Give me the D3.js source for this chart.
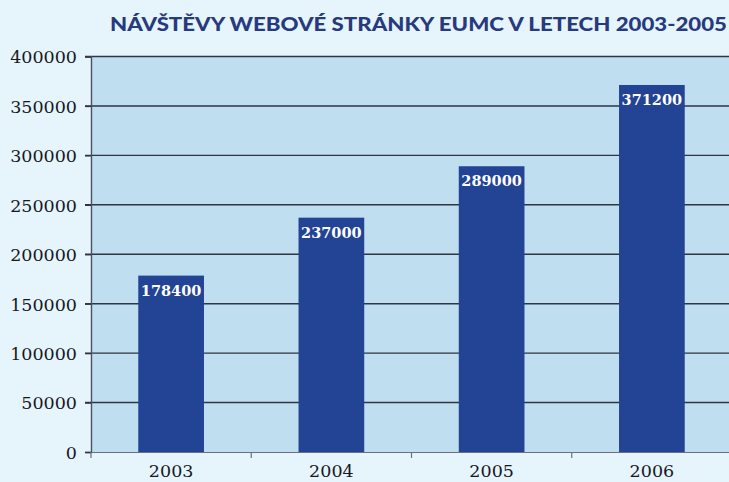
<!DOCTYPE html>
<html><head><meta charset="utf-8">
<script src="https://cdn.jsdelivr.net/npm/d3@7"></script>
<style>html,body{margin:0;padding:0;background:#e6f4fb;}svg{display:block;}</style>
</head><body>
<script>
const categories = ["2003", "2004", "2005", "2006"];
const visits = [178400, 237000, 289000, 371200];
const yTicks = [0, 50000, 100000, 150000, 200000, 250000, 300000, 350000, 400000];
const title = "NÁVŠTĚVY WEBOVÉ STRÁNKY EUMC V LETECH 2003-2005";

const W = 729, H = 482;
const svg = d3.select("body").append("svg").attr("width", W).attr("height", H);
svg.append("rect").attr("width", W).attr("height", H).attr("fill", "#e6f4fb");

const mLeft = 91, mRight = 732, mTop = 56.5, mBottom = 452;
const x = d3.scaleBand().domain(categories).range([mLeft, mRight]).paddingInner(0.59).paddingOuter(0.295);
const xb = d3.scaleBand().domain(categories).range([mLeft, mRight]);
const y = d3.scaleLinear().domain([0, 400000]).range([mBottom, mTop]);

svg.append("rect").attr("x", mLeft).attr("y", mTop).attr("width", W - mLeft).attr("height", mBottom - mTop).attr("fill", "#bfdff0");

// gridlines
svg.append("g").selectAll("line").data(yTicks.filter(d => d > 0)).join("line")
  .attr("x1", mLeft - 6).attr("x2", W).attr("y1", d => y(d)).attr("y2", d => y(d))
  .attr("stroke", "#2f3543").attr("stroke-width", 1.4);

// bars
svg.append("g").selectAll("rect").data(visits).join("rect")
  .attr("x", (d, i) => x(categories[i])).attr("width", x.bandwidth())
  .attr("y", d => y(d)).attr("height", d => mBottom - y(d))
  .attr("fill", "#234395");

// value labels
svg.append("g").selectAll("text").data(visits).join("text")
  .attr("x", (d, i) => x(categories[i]) + x.bandwidth() / 2)
  .attr("y", d => y(d) + 20)
  .attr("text-anchor", "middle").attr("fill", "#ffffff")
  .attr("font-family", "DejaVu Serif").attr("font-weight", "bold").attr("font-size", 14.5)
  .text(d => d);

// y axis
const yAxis = d3.axisLeft(y).tickValues(yTicks).tickSize(6).tickPadding(8).tickFormat(d => d);
const gy = svg.append("g").attr("transform", `translate(${mLeft},0)`).call(yAxis);
gy.select(".domain").attr("stroke", "#4a5060").attr("stroke-width", 1.4);
gy.selectAll(".tick line").attr("stroke", "#2f3543").attr("stroke-width", 1.4);
gy.selectAll(".tick text").attr("font-family", "DejaVu Serif").attr("font-size", 17.5).attr("fill", "#15181f").attr("dy", "0.36em");

// x axis
const xAxis = d3.axisBottom(xb).tickSize(0).tickPadding(13);
const gx = svg.append("g").attr("transform", `translate(0,${mBottom})`).call(xAxis);
gx.select(".domain").attr("stroke", "#6a7080").attr("stroke-width", 1.2);
gx.selectAll(".tick text").attr("font-family", "DejaVu Serif").attr("font-size", 17.5).attr("fill", "#15181f");
svg.append("g").selectAll("line").data(categories).join("line")
  .attr("x1", d => xb(d)).attr("x2", d => xb(d)).attr("y1", mBottom).attr("y2", mBottom + 6)
  .attr("stroke", "#6a7080").attr("stroke-width", 1.2);

// title
svg.append("text").attr("x", 727).attr("y", 31).attr("text-anchor", "end")
  .attr("font-family", "Lato").attr("font-weight", 900).attr("font-size", 19)
  .attr("fill", "#283a7e").attr("textLength", 617).attr("lengthAdjust", "spacingAndGlyphs")
  .text(title);
</script>
</body></html>
